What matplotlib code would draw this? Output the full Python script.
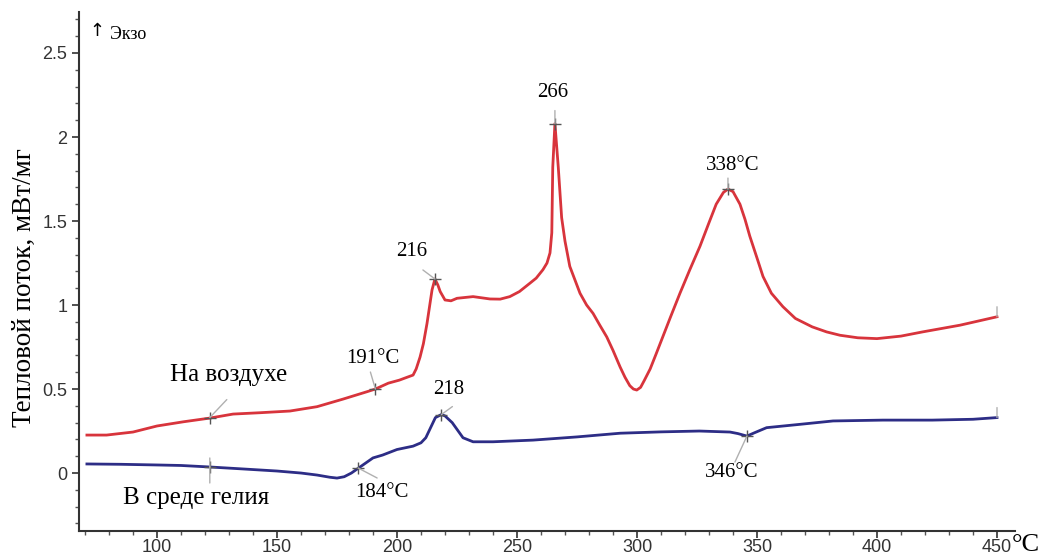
import matplotlib
matplotlib.use("Agg")
import matplotlib.pyplot as plt
from matplotlib.ticker import MultipleLocator

# кривая ДСК на воздухе
air_t = [70.8, 79, 90, 100, 111, 122, 131.7, 143, 155.4, 166.7, 177.5, 187.5, 191,
         196.4, 201, 204.2, 206.7, 208, 209.6, 211, 212.5, 214.6, 215.8, 217, 218, 220,
         222.5, 225, 231.7, 238.75, 243, 247, 251, 255.4, 258, 260.8, 262.5, 263.75,
         264.5, 264.9, 265.8, 267.2, 268.6, 270, 272, 276.25, 279, 281.7, 284.5, 287.4,
         290, 293, 295, 297, 298.5, 299.9, 301.5, 303, 305.5, 308, 311, 314, 317.9,
         322, 326.25, 330, 333, 336, 337.9, 340, 342.9, 345, 347, 350, 352.5, 356,
         360.8, 366, 373, 379, 384.6, 392, 400, 410, 419, 434.6, 450]
air_y = [0.226, 0.226, 0.244, 0.28, 0.305, 0.327, 0.351, 0.359, 0.369, 0.395, 0.44,
         0.484, 0.50, 0.535, 0.553, 0.57, 0.583, 0.62, 0.69, 0.77, 0.89, 1.09, 1.155,
         1.12, 1.08, 1.03, 1.025, 1.04, 1.05, 1.036, 1.035, 1.05, 1.08, 1.13, 1.16,
         1.21, 1.25, 1.31, 1.43, 1.82, 2.08, 1.82, 1.52, 1.38, 1.23, 1.07, 1.0, 0.95,
         0.88, 0.81, 0.73, 0.63, 0.57, 0.52, 0.50, 0.494, 0.51, 0.55, 0.62, 0.71,
         0.82, 0.93, 1.07, 1.21, 1.35, 1.49, 1.6, 1.67, 1.69, 1.675, 1.6, 1.51, 1.41,
         1.28, 1.17, 1.07, 0.99, 0.92, 0.87, 0.84, 0.82, 0.805, 0.80, 0.815, 0.84,
         0.88, 0.93]

# кривая ДСК в среде гелия
he_t = [70.8, 85, 100, 110, 122, 135, 150, 160, 166.7, 172, 175, 178, 181, 184, 187,
        190, 194, 200, 206.7, 210, 212, 214, 216, 218.5, 220, 223, 225.5, 227.5,
        231.7, 240, 256.7, 275, 293, 310, 326, 338.75, 342, 345.8, 349, 354, 368,
        381.7, 402.5, 423, 440, 450]
he_y = [0.054, 0.052, 0.048, 0.045, 0.036, 0.025, 0.012, 0.0, -0.012, -0.025, -0.03,
        -0.022, 0.0, 0.03, 0.06, 0.09, 0.107, 0.14, 0.16, 0.18, 0.21, 0.27, 0.33,
        0.348, 0.34, 0.30, 0.25, 0.21, 0.186, 0.186, 0.196, 0.215, 0.237, 0.245,
        0.25, 0.244, 0.235, 0.22, 0.24, 0.27, 0.29, 0.31, 0.315, 0.315, 0.32, 0.33]

# отмеченные точки: (T, y, подпись, смещение подписи, конец выноски) в пикселях
air_marks = [(122, 0.33, "", None, (17, 18)),
             (191, 0.50, "191°C", (-3, 31), (-5, 17)),
             (215.8, 1.155, "216", (-23, 27), (-12, 9)),
             (265.8, 2.08, "266", (-2, 31), (0, 13)),
             (337.9, 1.69, "338°C", (5, 24), (0, 11))]
he_marks = [(122, 0.036, "", None, (0, -16)),
            (183.8, 0.03, "184°C", (24, -25), (19, -10)),
            (218.5, 0.348, "218", (7, 25), (11, 8)),
            (345.8, 0.22, "346°C", (-15, -36), (-12, -26))]

red = "#d8343c"
blue = "#2d2d86"
serif = "Liberation Serif"
lead_style = dict(arrowstyle="-", color="#b0b0b0", lw=1, shrinkA=0, shrinkB=0)

fig = plt.figure(figsize=(10.43, 5.55), dpi=100)
ax = fig.add_axes([79 / 1043, 1 - 531 / 555, (1015 - 79) / 1043, (531 - 12) / 555])

ax.plot(air_t, air_y, color=red, lw=2)
ax.plot(he_t, he_y, color=blue, lw=2)

for marks in (air_marks, he_marks):
    for t, y, label, off, lead in marks:
        ax.annotate("", xy=(t, y), xytext=lead, textcoords="offset pixels",
                    arrowprops=lead_style)
        ax.plot(t, y, "+", color="#555555", ms=9, mew=1)
        if label:
            ax.annotate(label, xy=(t, y), xytext=off, textcoords="offset pixels",
                        ha="center", va="center", fontsize=15, family=serif)

# выноска у точки 122 на синей кривой идёт в обе стороны
ax.annotate("", xy=(122, 0.036), xytext=(0, 9), textcoords="offset pixels",
            arrowprops=lead_style)

# вертикальные метки на концах кривых
for y in (air_y[-1], he_y[-1]):
    ax.annotate("", xy=(450, y), xytext=(0, 10), textcoords="offset pixels",
                arrowprops=lead_style)

ax.annotate("На воздухе", xy=(122, 0.33), xytext=(19, 43), textcoords="offset pixels",
            ha="center", va="center", fontsize=18, family=serif)
ax.annotate("В среде гелия", xy=(122, 0.036), xytext=(-14, -31), textcoords="offset pixels",
            ha="center", va="center", fontsize=18, family=serif)

ax.text(0.019, 0.963, "↑", transform=ax.transAxes, fontsize=13, ha="center",
        va="center", family="DejaVu Sans")
ax.text(0.033, 0.956, "Экзо", transform=ax.transAxes, fontsize=13, va="center",
        family=serif)
fig.text(1026 / 1043, 1 - 545 / 555, "°C", fontsize=19, family=serif,
         ha="center", va="center")

ax.set_xlim(67.5, 457.5)
ax.set_ylim(-0.345, 2.744)
ax.xaxis.set_minor_locator(MultipleLocator(10))
ax.yaxis.set_minor_locator(MultipleLocator(0.1))
ax.set_xticks([100, 150, 200, 250, 300, 350, 400, 450])
ax.set_yticks([0, 0.5, 1, 1.5, 2, 2.5])
ax.set_yticklabels(["0", "0.5", "1", "1.5", "2", "2.5"])

for s in ("top", "right"):
    ax.spines[s].set_visible(False)
for s in ("left", "bottom"):
    ax.spines[s].set_color("#333333")
    ax.spines[s].set_linewidth(1.5)
ax.tick_params(which="major", length=5, width=1.2, color="#333333",
               labelsize=13, labelcolor="#333333")
ax.tick_params(axis="x", which="major", pad=1)
ax.tick_params(which="minor", length=3, width=1, color="#555555")
for lbl in ax.get_xticklabels() + ax.get_yticklabels():
    lbl.set_family("Liberation Sans")

ax.set_ylabel("Тепловой поток, мВт/мг", fontsize=19.5, family=serif)
ax.yaxis.set_label_coords(-0.0449, 0.470)

fig.savefig("out.png", dpi=100)
